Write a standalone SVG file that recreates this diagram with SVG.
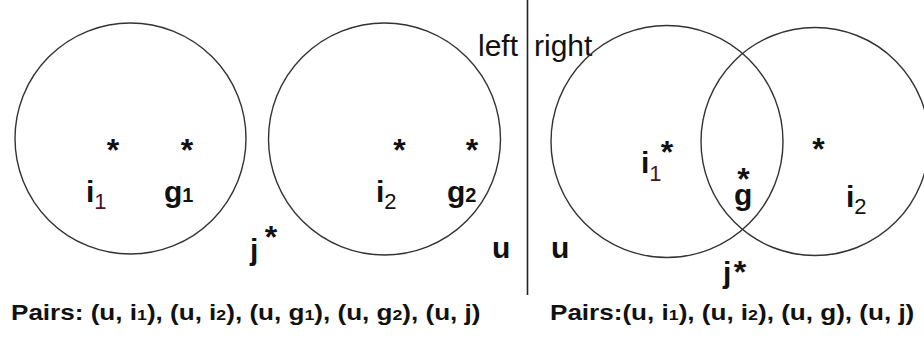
<svg xmlns="http://www.w3.org/2000/svg" width="924" height="341" viewBox="0 0 924 341">
<style>
  .c { fill: none; stroke: #333; stroke-width: 1.4; }
  .lab { font-family: "Liberation Sans", Arial, sans-serif; font-weight: bold; font-size: 30px; fill: #111; }
  .star { font-family: "Liberation Sans", Arial, sans-serif; font-weight: bold; font-size: 32px; fill: #111; text-anchor: middle; }
  .st { font-size: 32px; }
  .sub { font-weight: normal; font-size: 22px; }
  .subr { font-weight: normal; font-size: 22px; fill: #4a1424; }
  .gs { font-size: 20px; }
  .side { font-family: "Liberation Sans", Arial, sans-serif; font-size: 30px; fill: #111; }
  .pairs { font-family: "Liberation Sans", Arial, sans-serif; font-weight: bold; font-size: 22px; fill: #111; }
  .ps { font-size: 15px; }
</style>
<rect width="924" height="341" fill="#fff"/>

<!-- left panel -->
<g id="left-circle-1">
  <circle class="c" cx="130.5" cy="138.5" r="115.5"/>
  <text class="star" x="113" y="161">*</text>
  <text class="star" x="187" y="161">*</text>
  <text class="lab" x="86" y="202">i<tspan class="subr" dy="7">1</tspan></text>
  <text class="lab" x="164" y="202">g<tspan class="gs">1</tspan></text>
</g>
<g id="left-circle-2">
  <circle class="c" cx="384.5" cy="139" r="116"/>
  <text class="star" x="399.5" y="161">*</text>
  <text class="star" x="472" y="161">*</text>
  <text class="lab" x="376" y="202">i<tspan class="sub" dy="7">2</tspan></text>
  <text class="lab" x="447" y="202">g<tspan class="gs">2</tspan></text>
</g>
<g id="left-j">
  <text class="lab" x="250" y="260">j<tspan class="st" x="271" y="248" text-anchor="middle">*</tspan></text>
</g>
<g id="left-u">
  <text class="lab" x="492" y="258">u</text>
</g>
<text class="side" x="478" y="56">left</text>

<!-- divider -->
<g id="connectors">
  <line x1="527.5" y1="0" x2="527.5" y2="295" stroke="#222" stroke-width="1.6"/>
</g>

<!-- right panel -->
<text class="side" x="534" y="56">right</text>
<g id="right-circle-1">
  <circle class="c" cx="667" cy="141.5" r="116"/>
  <text class="lab" x="641" y="173">i<tspan class="subr" dy="8">1</tspan><tspan class="st" x="667" y="163" text-anchor="middle">*</tspan></text>
</g>
<g id="right-circle-2">
  <circle class="c" cx="815" cy="141.5" r="114"/>
  <text class="star" x="818.5" y="160">*</text>
  <text class="lab" x="846" y="207">i<tspan class="sub" dy="7">2</tspan></text>
</g>
<g id="right-g">
  <text class="lab"><tspan class="st" x="743.5" y="190" text-anchor="middle">*</tspan><tspan x="734" y="205">g</tspan></text>
</g>
<g id="right-u">
  <text class="lab" x="551" y="258">u</text>
</g>
<g id="right-j">
  <text class="lab" x="723" y="283">j<tspan class="st" x="740" y="283" text-anchor="middle">*</tspan></text>
</g>

<!-- pairs lines -->
<text class="pairs" transform="translate(11,320) scale(1.185,1)">Pairs: (u, i<tspan class="ps">1</tspan>), (u, i<tspan class="ps">2</tspan>), (u, g<tspan class="ps">1</tspan>), (u, g<tspan class="ps">2</tspan>), (u, j)</text>
<text class="pairs" transform="translate(550,320) scale(1.185,1)">Pairs:(u, i<tspan class="ps">1</tspan>), (u, i<tspan class="ps">2</tspan>), (u, g), (u, j)</text>
</svg>
